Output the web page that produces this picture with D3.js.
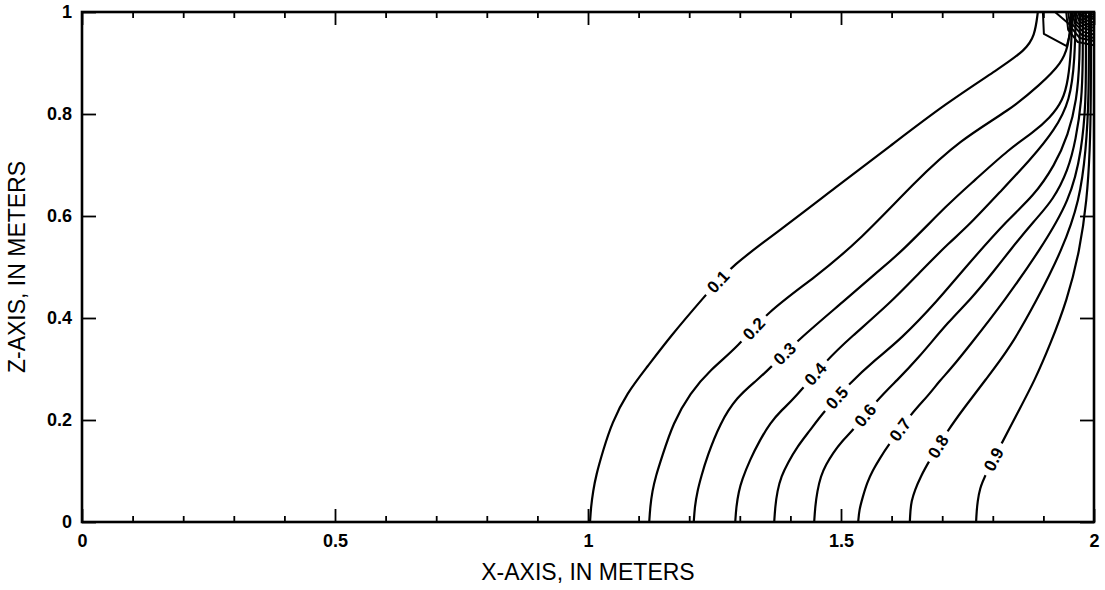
<!DOCTYPE html>
<html>
<head>
<meta charset="utf-8">
<script src="https://cdn.jsdelivr.net/npm/d3@7/dist/d3.min.js"></script>
<style>
  body { margin: 0; background: #fff; }
  text { font-family: "Liberation Sans", Arial, Helvetica, sans-serif; fill: #000; }
</style>
</head>
<body>
<svg id="chart"></svg>
<script>
// tick values
var xMajorTicks = [0, 0.5, 1, 1.5, 2];
var xMinorTicks = [0.1, 0.2, 0.3, 0.4, 0.6, 0.7, 0.8, 0.9, 1.1, 1.2, 1.3, 1.4, 1.6, 1.7, 1.8, 1.9];
var yTicks = [0, 0.2, 0.4, 0.6, 0.8, 1];

// contour lines, [x, z] in meters
var c01 = [[1.004,0],[1.006,0.03],[1.010,0.06],[1.016,0.092],[1.030,0.141],[1.047,0.194],[1.077,0.253],[1.117,0.304],
  [1.162,0.363],[1.229,0.441],[1.285,0.504],[1.385,0.576],[1.488,0.655],[1.597,0.737],[1.706,0.820],
  [1.814,0.890],[1.864,0.925],[1.883,0.953],[1.889,1]];
var c01b = [[1.899,1],[1.901,0.957],[1.946,0.933],[1.953,0.960],[1.955,1]];
var c02 = [[1.121,0],[1.123,0.03],[1.127,0.06],[1.134,0.09],[1.146,0.127],[1.168,0.194],[1.202,0.253],[1.241,0.298],
  [1.296,0.343],[1.354,0.412],[1.449,0.480],[1.538,0.553],[1.646,0.667],[1.735,0.749],[1.834,0.808],
  [1.893,0.857],[1.937,0.900],[1.949,0.935],[1.953,0.965],[1.955,1]];
var c03 = [[1.209,0],[1.211,0.03],[1.216,0.06],[1.224,0.09],[1.235,0.127],[1.261,0.194],[1.294,0.245],[1.334,0.278],
  [1.360,0.302],[1.415,0.357],[1.508,0.435],[1.571,0.490],[1.617,0.527],[1.715,0.627],[1.761,0.667],
  [1.834,0.733],[1.879,0.763],[1.913,0.792],[1.939,0.827],[1.949,0.867],[1.955,0.925],[1.957,1]];
var c04 = [[1.291,0],[1.293,0.03],[1.298,0.06],[1.304,0.082],[1.320,0.122],[1.340,0.161],[1.360,0.194],[1.383,0.220],
  [1.405,0.239],[1.472,0.318],[1.518,0.361],[1.597,0.429],[1.656,0.490],[1.715,0.549],[1.749,0.578],
  [1.814,0.647],[1.874,0.710],[1.923,0.769],[1.953,0.827],[1.962,0.906],[1.964,1]];
var c05 = [[1.368,0],[1.370,0.03],[1.374,0.06],[1.382,0.09],[1.395,0.116],[1.413,0.147],[1.439,0.180],[1.464,0.214],
  [1.518,0.273],[1.567,0.318],[1.617,0.357],[1.692,0.435],[1.741,0.494],[1.834,0.598],[1.879,0.637],
  [1.923,0.700],[1.949,0.759],[1.966,0.827],[1.972,0.906],[1.972,1]];
var c06 = [[1.447,0],[1.449,0.03],[1.453,0.06],[1.460,0.09],[1.470,0.112],[1.484,0.135],[1.502,0.159],[1.524,0.180],
  [1.571,0.239],[1.611,0.278],[1.650,0.318],[1.715,0.396],[1.755,0.435],[1.804,0.494],[1.834,0.533],
  [1.883,0.592],[1.919,0.631],[1.949,0.690],[1.964,0.749],[1.976,0.827],[1.978,0.906],[1.978,1]];
var c07 = [[1.534,0],[1.536,0.024],[1.543,0.049],[1.551,0.076],[1.563,0.102],[1.577,0.125],[1.591,0.147],
  [1.640,0.214],[1.670,0.245],[1.696,0.278],[1.715,0.298],[1.755,0.347],[1.824,0.435],[1.893,0.533],
  [1.953,0.631],[1.976,0.729],[1.984,0.827],[1.984,0.906],[1.984,1]];
var c08 = [[1.636,0],[1.637,0.02],[1.639,0.04],[1.646,0.063],[1.658,0.090],[1.672,0.116],[1.711,0.180],[1.745,0.226],
  [1.785,0.278],[1.834,0.341],[1.887,0.435],[1.937,0.533],[1.972,0.631],[1.984,0.729],[1.990,0.827],[1.990,1]];
var c09 = [[1.767,0],[1.768,0.02],[1.770,0.04],[1.774,0.065],[1.785,0.092],[1.818,0.155],[1.850,0.216],[1.883,0.278],
  [1.913,0.347],[1.947,0.435],[1.972,0.533],[1.986,0.631],[1.992,0.729],[1.994,0.827],[1.994,1]];
// tight contours packed into the upper right corner
var k1 = [[1.945,1],[1.949,0.965],[1.968,0.941],[2,0.935]];
var k2 = [[1.949,1],[1.953,0.972],[1.972,0.949],[2,0.943]];
var k3 = [[1.953,1],[1.958,0.975],[1.976,0.955],[2,0.949]];
var k4 = [[1.957,1],[1.962,0.978],[1.979,0.961],[2,0.956]];
var k5 = [[1.960,1],[1.966,0.980],[1.982,0.967],[2,0.963]];
var k6 = [[1.964,1],[1.970,0.983],[1.985,0.972],[2,0.969]];
var k7 = [[1.968,1],[1.974,0.986],[1.988,0.976],[2,0.975]];
var k8 = [[1.972,1],[1.978,0.988],[1.991,0.981],[2,0.980]];
var k9 = [[1.976,1],[1.982,0.990],[2,0.986]];
var k10 = [[1.980,1],[1.986,0.992],[2,0.990]];
var k11 = [[1.984,1],[2,0.994]];
var k12 = [[1.923,1],[1.957,0.971]];

var labelNames = ["0.1","0.2","0.3","0.4","0.5","0.6","0.7","0.8","0.9"];
var labelSpots = [[1.255,0.473],[1.326,0.380],[1.389,0.329],[1.447,0.292],[1.492,0.243],
  [1.547,0.210],[1.617,0.180],[1.692,0.149],[1.802,0.122]];

var width = 1105, height = 590;
var margin = {top: 12, right: 11, bottom: 68, left: 82};
var w = width - margin.left - margin.right,
    h = height - margin.top - margin.bottom;

var svg = d3.select("#chart").attr("width", width).attr("height", height);

var x = d3.scaleLinear().domain([0, 2]).range([0, w]);
var y = d3.scaleLinear().domain([0, 1]).range([h, 0]);

var g = svg.append("g").attr("transform", "translate(" + margin.left + "," + margin.top + ")");

var line = d3.line()
    .x(function(d) { return x(d[0]); })
    .y(function(d) { return y(d[1]); })
    .curve(d3.curveBasis);
var straight = d3.line()
    .x(function(d) { return x(d[0]); })
    .y(function(d) { return y(d[1]); });

// mask used to cut the gaps where the labels sit
var defs = svg.append("defs");
var mask = defs.append("mask").attr("id", "gaps").attr("maskUnits", "userSpaceOnUse")
    .attr("x", -10).attr("y", -10).attr("width", w + 20).attr("height", h + 20);
mask.append("rect").attr("x", -10).attr("y", -10).attr("width", w + 20).attr("height", h + 20).attr("fill", "#fff");

var labeled = [c01, c02, c03, c04, c05, c06, c07, c08, c09];
var others = [c01b, k1, k2, k3, k4, k5, k6, k7, k8, k9, k10, k11, k12];

var lines = g.append("g").attr("mask", "url(#gaps)");
lines.selectAll("path.lab")
    .data(labeled)
    .enter().append("path")
    .attr("class", "lab")
    .attr("d", line)
    .attr("fill", "none").attr("stroke", "#000").attr("stroke-width", 2.2);

lines.selectAll("path.oth")
    .data(others)
    .enter().append("path")
    .attr("class", "oth")
    .attr("d", straight)
    .attr("fill", "none").attr("stroke", "#000").attr("stroke-width", 2)
    .attr("stroke-linejoin", "round");

// place labels on their contour, aligned with the line
lines.selectAll("path.lab").each(function(d, i) {
    var node = this, len = node.getTotalLength();
    var px = x(labelSpots[i][0]), py = y(labelSpots[i][1]);
    var best = 0, bestD = Infinity;
    for (var s = 0; s <= len; s += 1) {
        var p = node.getPointAtLength(s);
        var dd = (p.x - px) * (p.x - px) + (p.y - py) * (p.y - py);
        if (dd < bestD) { bestD = dd; best = s; }
    }
    var p0 = node.getPointAtLength(Math.max(0, best - 10)),
        p1 = node.getPointAtLength(Math.min(len, best + 10)),
        pc = node.getPointAtLength(best);
    var ang = Math.atan2(p1.y - p0.y, p1.x - p0.x) * 180 / Math.PI;
    if (ang > 90) ang -= 180;
    if (ang < -90) ang += 180;
    var t = g.append("text")
        .attr("transform", "translate(" + pc.x + "," + pc.y + ") rotate(" + ang + ")")
        .attr("text-anchor", "middle")
        .attr("dy", "0.36em")
        .style("font-size", "17px")
        .style("font-weight", "bold")
        .text(labelNames[i]);
    var tw = t.node().getComputedTextLength() + 12;
    mask.append("rect")
        .attr("x", -tw / 2).attr("y", -9).attr("width", tw).attr("height", 18)
        .attr("transform", "translate(" + pc.x + "," + pc.y + ") rotate(" + ang + ")")
        .attr("fill", "#000");
});

// ticks, all pointing inward
function strip(sel) { sel.select(".domain").remove(); sel.selectAll("line").attr("stroke", "#000").attr("stroke-width", 1.8); }

g.append("g").attr("transform", "translate(0," + h + ")")
    .call(d3.axisBottom(x).tickValues(xMinorTicks).tickSizeInner(-6).tickSizeOuter(0).tickFormat(""))
    .call(strip);
g.append("g").attr("transform", "translate(0," + h + ")")
    .call(d3.axisBottom(x).tickValues(xMajorTicks).tickSizeInner(-13).tickSizeOuter(0).tickPadding(12)
        .tickFormat(d3.format("~g")))
    .call(strip)
    .selectAll("text").style("font-size", "18px").style("font-weight", "bold").attr("fill", "#000");
g.append("g")
    .call(d3.axisTop(x).tickValues(xMinorTicks).tickSizeInner(-6).tickSizeOuter(0).tickFormat(""))
    .call(strip);
g.append("g")
    .call(d3.axisTop(x).tickValues(xMajorTicks).tickSizeInner(-13).tickSizeOuter(0).tickFormat(""))
    .call(strip);
g.append("g")
    .call(d3.axisLeft(y).tickValues(yTicks).tickSizeInner(-14).tickSizeOuter(0).tickPadding(10)
        .tickFormat(d3.format("~g")))
    .call(strip)
    .selectAll("text").style("font-size", "18px").style("font-weight", "bold").attr("fill", "#000");
g.append("g").attr("transform", "translate(" + w + ",0)")
    .call(d3.axisRight(y).tickValues(yTicks).tickSizeInner(-14).tickSizeOuter(0).tickFormat(""))
    .call(strip);

// frame
g.append("rect").attr("width", w).attr("height", h)
    .attr("fill", "none").attr("stroke", "#000").attr("stroke-width", 2.6);

// axis titles
svg.append("text")
    .attr("x", margin.left + w / 2).attr("y", 580)
    .attr("text-anchor", "middle")
    .style("font-size", "23px")
    .text("X-AXIS, IN METERS");
svg.append("text")
    .attr("transform", "translate(25," + (margin.top + h / 2) + ") rotate(-90)")
    .attr("text-anchor", "middle")
    .style("font-size", "23px")
    .text("Z-AXIS, IN METERS");
</script>
</body>
</html>
